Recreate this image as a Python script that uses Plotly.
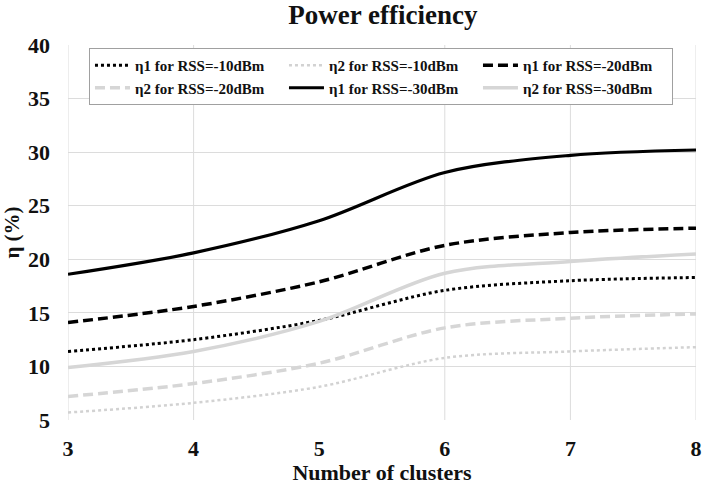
import plotly.graph_objects as go

clusters = [3, 4, 5, 6, 7, 8]

eta1_m10 = [11.4, 12.5, 14.3, 17.1, 18.0, 18.3]
eta2_m10 = [5.7, 6.6, 8.1, 10.8, 11.4, 11.8]
eta1_m20 = [14.1, 15.6, 17.9, 21.3, 22.5, 22.9]
eta2_m20 = [7.2, 8.4, 10.3, 13.6, 14.5, 14.9]
eta1_m30 = [18.6, 20.6, 23.6, 28.1, 29.7, 30.2]
eta2_m30 = [9.9, 11.4, 14.2, 18.7, 19.8, 20.5]

names = ["η1 for RSS=-10dBm", "η2 for RSS=-10dBm", "η1 for RSS=-20dBm",
         "η2 for RSS=-20dBm", "η1 for RSS=-30dBm", "η2 for RSS=-30dBm"]
series = [eta1_m10, eta2_m10, eta1_m20, eta2_m20, eta1_m30, eta2_m30]
styles = [
    dict(color="#000000", width=3, dash="dot"),
    dict(color="#d2d2d2", width=2.5, dash="dot"),
    dict(color="#000000", width=3.5, dash="10px,5px"),
    dict(color="#d6d6d6", width=3.5, dash="10px,5px"),
    dict(color="#000000", width=3.2),
    dict(color="#d6d6d6", width=3.5),
]

FONT = "Liberation Serif"

fig = go.Figure()
for n, s, st in zip(names, series, styles):
    fig.add_trace(go.Scatter(x=clusters, y=s, name=n, mode="lines",
                             line=dict(shape="spline", smoothing=0.9, **st)))

grid_x = [3, 4, 6, 7, 8]
for gx in grid_x:
    fig.add_shape(type="line", xref="x", yref="paper", x0=gx, x1=gx, y0=0, y1=1,
                  line=dict(color="#dcdcdc", width=1), layer="below")

fig.update_layout(
    width=705, height=485,
    margin=dict(l=68, r=9, t=45, b=65),
    paper_bgcolor="white", plot_bgcolor="white",
    font=dict(family=FONT, color="#111111"),
    title=dict(text="Power efficiency", x=0.543, xanchor="center",
               yref="container", y=0.99, yanchor="top",
               font=dict(family=FONT, size=27, weight="bold")),
    xaxis=dict(range=[3, 8], tickvals=clusters, showgrid=False, zeroline=False,
               showline=False, ticks="", ticklabelstandoff=13, automargin=False,
               tickfont=dict(family=FONT, size=22, weight="bold"),
               title=dict(text="Number of clusters", standoff=22,
                          font=dict(family=FONT, size=22, weight="bold"))),
    yaxis=dict(range=[5, 40], dtick=5, showgrid=True, gridcolor="#dcdcdc", gridwidth=1,
               zeroline=False, showline=False, ticks="", ticklabelstandoff=17,
               automargin=False,
               tickfont=dict(family=FONT, size=22, weight="bold"),
               title=dict(text="η (%)", standoff=8,
                          font=dict(family=FONT, size=21, weight="bold"))),
    legend=dict(orientation="h", x=0.0334, y=0.992, xanchor="left", yanchor="top",
                bgcolor="white", bordercolor="#a0a0a0", borderwidth=1,
                entrywidth=144, entrywidthmode="pixels", itemwidth=35,
                font=dict(family=FONT, size=15, weight="bold", color="#111111"),
                tracegroupgap=0),
    showlegend=True,
)

fig.write_html("out.html")
